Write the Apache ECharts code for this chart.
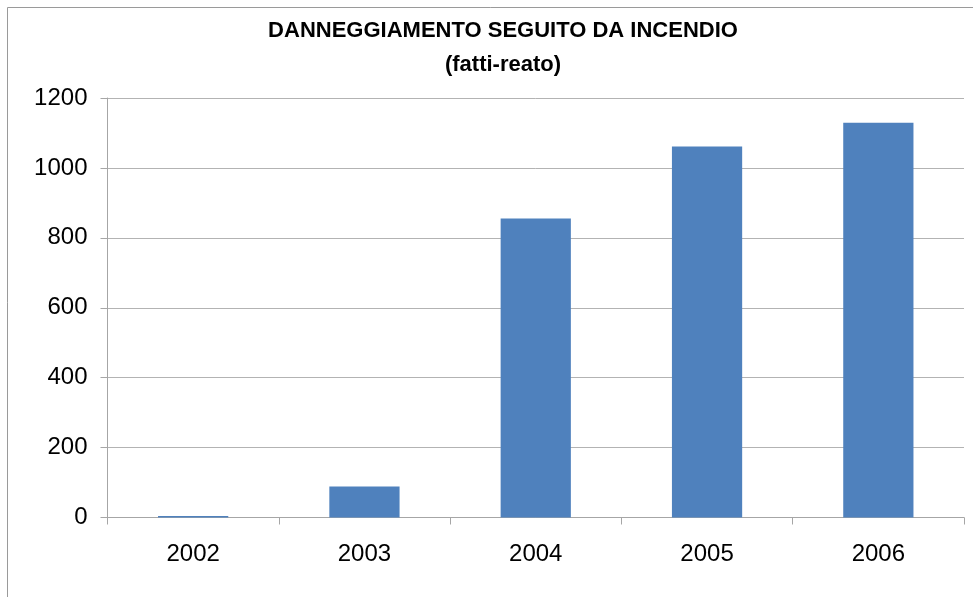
<!DOCTYPE html>
<html>
<head>
<meta charset="utf-8">
<script src="https://cdn.jsdelivr.net/npm/echarts@6/dist/echarts.min.js"></script>
<style>
    html, body { margin: 0; padding: 0; background: #fff; }
    #chart { width: 973px; height: 597px; }
</style>
</head>
<body>
<div id="chart"></div>
<script>
// dati: fatti-reato per anno
const anni = ['2002', '2003', '2004', '2005', '2006']
const fattiReato = [4, 89, 855, 1061, 1129]
const tickAsseY = [0, 200, 400, 600, 800, 1000, 1200]

const myChart = echarts.init(document.getElementById('chart'))
const option = {
    backgroundColor: '#fff',
    textStyle: { fontFamily: 'Liberation Sans, Arial, sans-serif' },
    // cornice esterna
    graphic: [
        {
            type: 'rect',
            silent: true,
            shape: { x: 7.5, y: 7.5, width: 1000, height: 1000 },
            style: { fill: 'none', stroke: '#9a9a9a', lineWidth: 1 },
        },
    ],
    title: {
        text: 'DANNEGGIAMENTO SEGUITO DA INCENDIO',
        subtext: '(fatti-reato)',
        left: 498,
        textAlign: 'center',
        top: 15,
        itemGap: 12,
        textStyle: { fontSize: 22, fontWeight: 'bold', color: '#000' },
        subtextStyle: { fontSize: 22, fontWeight: 'bold', color: '#000' },
    },
    grid: { left: 107.5, right: 9, top: 98, bottom: 79.5, containLabel: false },
    xAxis: {
        type: 'category',
        data: anni,
        axisLine: { lineStyle: { color: '#a6a6a6' } },
        axisTick: { show: true, length: 7, lineStyle: { color: '#a6a6a6' } },
        axisLabel: { fontSize: 24, color: '#000', margin: 25 },
    },
    yAxis: {
        type: 'value',
        min: tickAsseY[0],
        max: tickAsseY[tickAsseY.length - 1],
        interval: 200,
        axisLine: { show: true, lineStyle: { color: '#a6a6a6' } },
        axisTick: { show: true, length: 7, lineStyle: { color: '#a6a6a6' } },
        axisLabel: { fontSize: 24, color: '#000', margin: 20, formatter: (v) => String(v) },
        splitLine: { lineStyle: { color: '#b3b3b3' } },
    },
    series: [
        {
            type: 'bar',
            data: fattiReato,
            barWidth: '41%',
            itemStyle: { color: '#4f81bd' },
        },
    ],
}
myChart.setOption(option)
</script>
</body>
</html>
